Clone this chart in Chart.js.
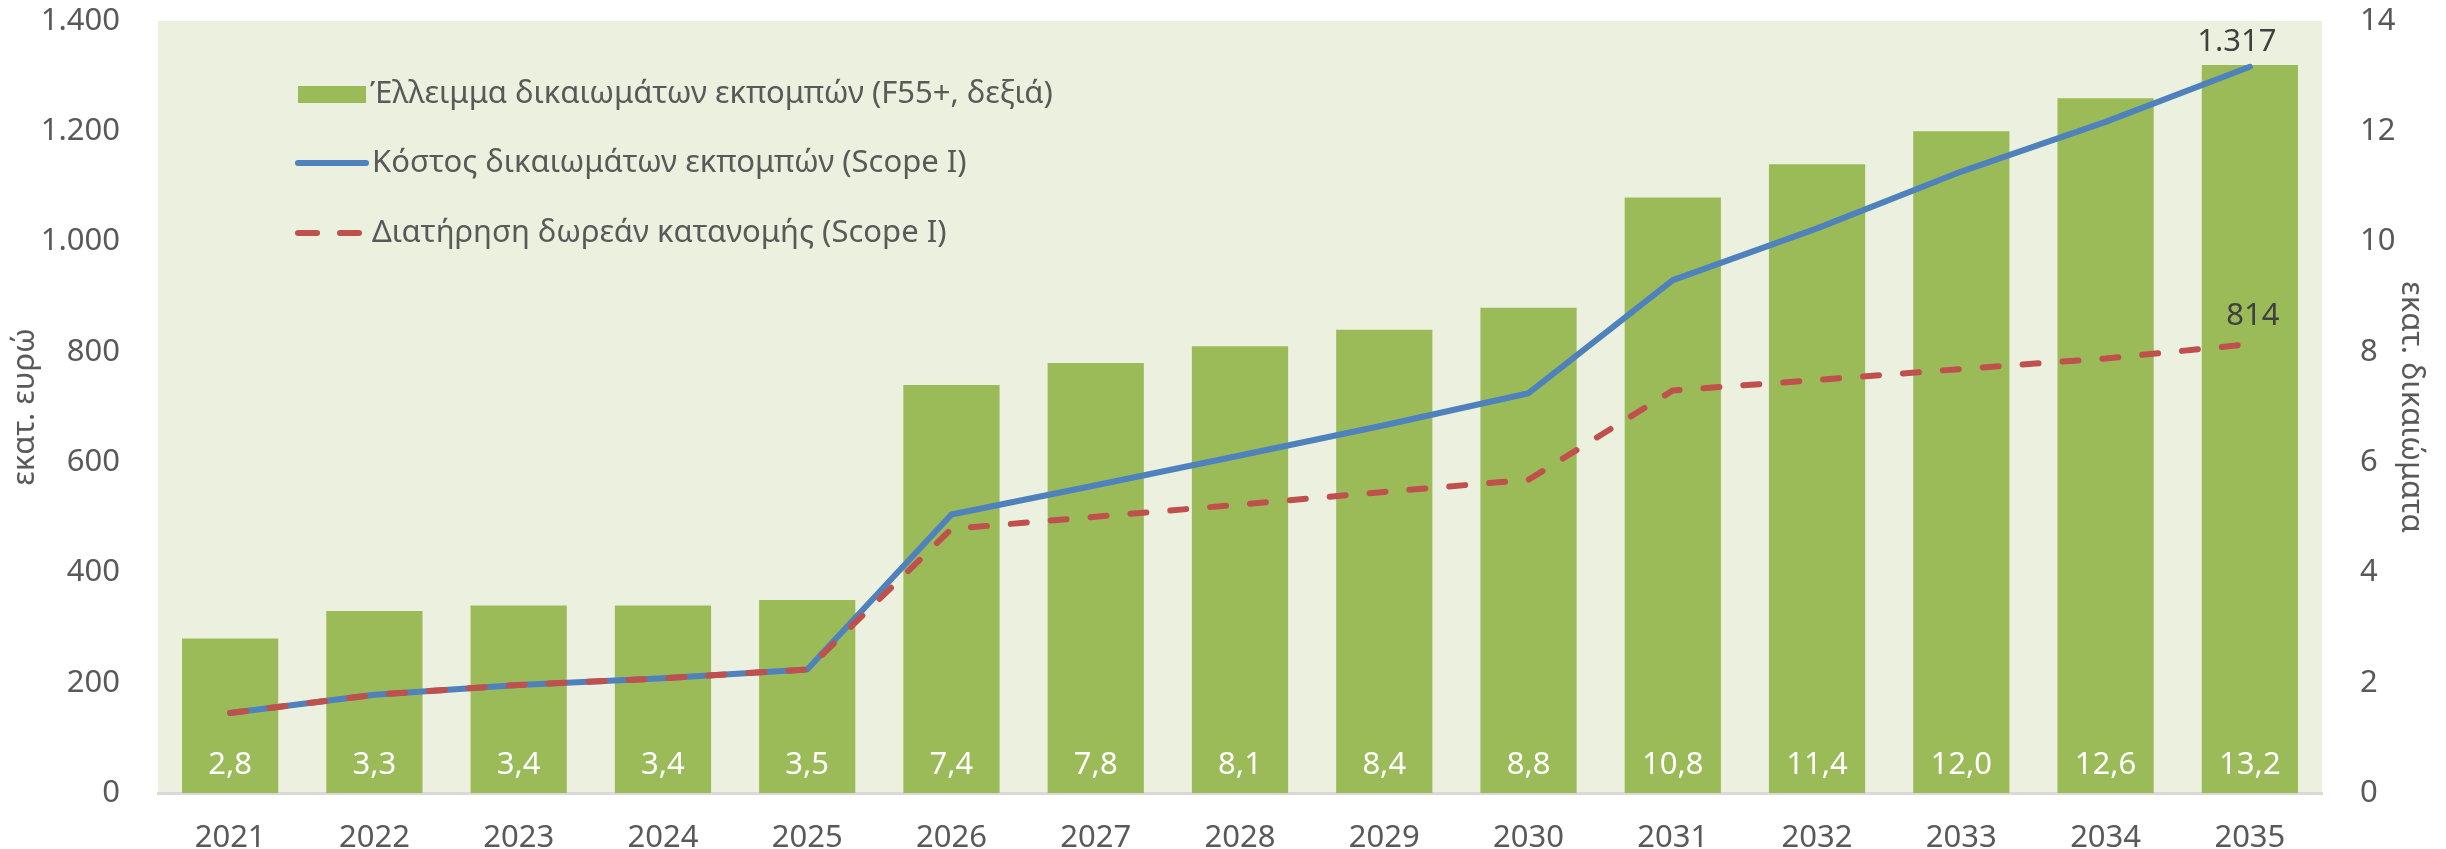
<!DOCTYPE html>
<html>
<head>
  <meta charset="utf-8">
  <title>Emission allowances</title>
  <script src="https://cdn.jsdelivr.net/npm/chart.js"></script>
  <style>
    html, body { margin: 0; padding: 0; background: #fff; }
    #wrap { width: 2446px; height: 849px; }
  </style>
</head>
<body>
<div id="wrap"><canvas id="chart" width="2446" height="849"></canvas></div>

<script>
  // data
  const years = ["2021", "2022", "2023", "2024", "2025", "2026", "2027", "2028",
                 "2029", "2030", "2031", "2032", "2033", "2034", "2035"];
  const deficit = [2.8, 3.3, 3.4, 3.4, 3.5, 7.4, 7.8, 8.1, 8.4, 8.8, 10.8, 11.4, 12.0, 12.6, 13.2];
  const cost = [145, 178, 196, 208, 224, 505, 558, 612, 667, 725, 930, 1024, 1127, 1217, 1317];
  const freeAlloc = [145, 178, 196, 208, 224, 479, 501, 523, 546, 568, 730, 749, 769, 788, 814];
  const leftTicks = [0, 200, 400, 600, 800, 1000, 1200, 1400];
  const rightTicks = [0, 2, 4, 6, 8, 10, 12, 14];
  const seriesNames = [
    "Έλλειμμα δικαιωμάτων εκπομπών (F55+, δεξιά)",
    "Κόστος δικαιωμάτων εκπομπών (Scope I)",
    "Διατήρηση δωρεάν κατανομής (Scope I)"
  ];
  const axisTitles = ["εκατ. ευρώ", "εκατ. δικαιώματα"];

  const GREEN = "#9BBB59", BLUE = "#4F81BD", RED = "#C0504D";
  const TEXT = "#595959";
  const FONT = "'Noto Sans', sans-serif";
  const SIZE = 31;

  // greek number format: 1.317 and 2,8
  function fmtInt(v) {
    return String(Math.round(v)).replace(/\B(?=(\d{3})+(?!\d))/g, ".");
  }
  function fmtDec(v) {
    return v.toFixed(1).replace(".", ",");
  }

  const plotBg = {
    id: "plotBg",
    beforeDraw(chart) {
      const a = chart.chartArea, ctx = chart.ctx;
      ctx.save();
      ctx.fillStyle = "#EBF1DE";
      ctx.fillRect(a.left, a.top, a.right - a.left, a.bottom - a.top);
      ctx.restore();
    }
  };

  const valueLabels = {
    id: "valueLabels",
    afterDatasetsDraw(chart) {
      const ctx = chart.ctx;
      ctx.save();
      ctx.font = SIZE + "px " + FONT;
      ctx.textAlign = "center";
      ctx.textBaseline = "middle";
      // bar values, white, near the base
      ctx.fillStyle = "#FFFFFF";
      chart.getDatasetMeta(0).data.forEach((bar, i) => {
        ctx.fillText(fmtDec(deficit[i]), bar.x, bar.base - 28);
      });
      // last value of each line
      ctx.fillStyle = "#404040";
      const last = years.length - 1;
      const pc = chart.getDatasetMeta(1).data[last];
      ctx.fillText(fmtInt(cost[last]), pc.x - 13, pc.y - 25);
      const pf = chart.getDatasetMeta(2).data[last];
      ctx.fillText(fmtInt(freeAlloc[last]), pf.x + 3, pf.y - 28);
      ctx.restore();
    }
  };

  // legend sits inside the plot, top left
  const innerLegend = {
    id: "innerLegend",
    afterDraw(chart) {
      const ctx = chart.ctx, a = chart.chartArea;
      const x0 = a.left + 138;
      const rows = [a.top + 73, a.top + 142, a.top + 212];
      ctx.save();
      ctx.font = SIZE + "px " + FONT;
      ctx.textBaseline = "middle";
      ctx.textAlign = "left";

      ctx.fillStyle = GREEN;
      ctx.fillRect(x0 + 2, rows[0] - 8, 68, 17);

      ctx.lineCap = "round";
      ctx.lineWidth = 6;
      ctx.strokeStyle = BLUE;
      ctx.beginPath();
      ctx.moveTo(x0 + 2, rows[1]);
      ctx.lineTo(x0 + 70, rows[1]);
      ctx.stroke();

      ctx.strokeStyle = RED;
      ctx.beginPath();
      ctx.moveTo(x0 + 2, rows[2]);
      ctx.lineTo(x0 + 21, rows[2]);
      ctx.moveTo(x0 + 44, rows[2]);
      ctx.lineTo(x0 + 63, rows[2]);
      ctx.stroke();

      ctx.fillStyle = TEXT;
      ctx.fillText(seriesNames[0], x0 + 74, rows[0]);
      ctx.fillText(seriesNames[1], x0 + 76, rows[1]);
      ctx.fillText(seriesNames[2], x0 + 76, rows[2]);
      ctx.restore();
    }
  };

  // keep the tick padding from pushing the plot area in
  function noEdgePadding(axis) {
    axis.paddingTop = 0;
    axis.paddingBottom = 0;
  }

  Chart.defaults.font.family = FONT;
  Chart.defaults.font.size = SIZE;
  Chart.defaults.color = TEXT;

  new Chart(document.getElementById("chart"), {
    data: {
      labels: years,
      datasets: [
        {
          type: "bar",
          label: seriesNames[0],
          data: deficit,
          yAxisID: "yR",
          backgroundColor: GREEN,
          categoryPercentage: 1,
          barPercentage: 0.667,
          order: 3
        },
        {
          type: "line",
          label: seriesNames[1],
          data: cost,
          yAxisID: "yL",
          borderColor: BLUE,
          borderWidth: 6,
          pointRadius: 0,
          tension: 0,
          borderJoinStyle: "round",
          borderCapStyle: "round",
          order: 2
        },
        {
          type: "line",
          label: seriesNames[2],
          data: freeAlloc,
          yAxisID: "yL",
          borderColor: RED,
          borderWidth: 6,
          borderDash: [16, 24],
          borderCapStyle: "round",
          pointRadius: 0,
          tension: 0,
          order: 1
        }
      ]
    },
    options: {
      responsive: false,
      animation: false,
      layout: { padding: { top: 21, left: 0, right: 0, bottom: 0 } },
      plugins: {
        legend: { display: false },
        tooltip: { enabled: false }
      },
      scales: {
        x: {
          grid: { display: false },
          border: { display: true, color: "#D9D9D9", width: 3 },
          ticks: { padding: 19, maxRotation: 0 },
          afterFit(axis) { axis.height = 56; }
        },
        yL: {
          position: "left",
          min: 0,
          max: 1400,
          grid: { display: false },
          border: { display: false },
          afterBuildTicks(axis) { axis.ticks = leftTicks.map(v => ({ value: v })); },
          ticks: { padding: 30, callback: v => fmtInt(v) },
          title: { display: true, text: axisTitles[0], padding: { top: 7, bottom: 0 } },
          afterFit(axis) { axis.width = 158; noEdgePadding(axis); }
        },
        yR: {
          position: "right",
          min: 0,
          max: 14,
          grid: { display: false },
          border: { display: false },
          afterBuildTicks(axis) { axis.ticks = rightTicks.map(v => ({ value: v })); },
          ticks: { padding: 30, callback: v => String(v) },
          title: { display: true, text: axisTitles[1], padding: { top: 17, bottom: 0 } },
          afterFit(axis) { axis.width = 124; noEdgePadding(axis); }
        }
      }
    },
    plugins: [plotBg, valueLabels, innerLegend]
  });
</script>
</body>
</html>
